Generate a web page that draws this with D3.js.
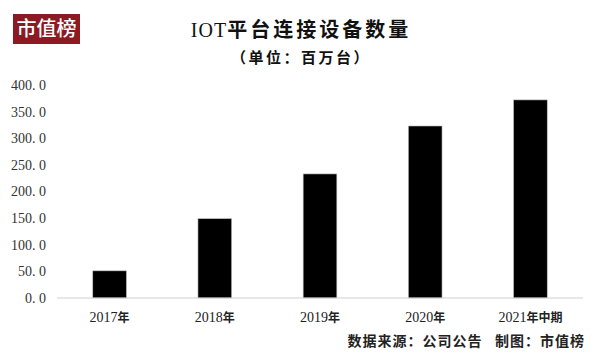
<!DOCTYPE html>
<html>
<head>
<meta charset="utf-8">
<script src="https://cdn.jsdelivr.net/npm/d3@7"></script>
<style>
  body { margin: 0; background: #fff; }
  svg { display: block; }
</style>
</head>
<body>
<div id="chart"></div>
<script>
// data
const categories = ['2017年', '2018年', '2019年', '2020年', '2021年中期'];
const devices    = [51, 149, 233, 323, 372];
const yTicks     = [0, 50, 100, 150, 200, 250, 300, 350, 400];

const canvas_w = 600;
const canvas_h = 364;
const margin   = { top: 85, right: 17, bottom: 66, left: 57 };

const serif = '"Liberation Serif", "Noto Sans CJK SC", serif';
const cjk   = '"Noto Sans CJK SC", sans-serif';

let svg = d3.select('#chart')
            .append('svg')
            .attr('width', canvas_w)
            .attr('height', canvas_h);

svg.append('rect')
   .attr('width', canvas_w)
   .attr('height', canvas_h)
   .attr('fill', '#fff');

let x = d3.scaleBand()
          .domain(categories)
          .range([margin.left, canvas_w - margin.right])
          .paddingInner(0.68)
          .paddingOuter(0.34);

let y = d3.scaleLinear()
          .domain([0, 400])
          .range([canvas_h - margin.bottom, margin.top]);

// logo
svg.append('rect')
   .attr('x', 13).attr('y', 14)
   .attr('width', 67).attr('height', 30)
   .attr('fill', '#8b1a22');
svg.append('text')
   .attr('x', 46.5).attr('y', 36)
   .attr('text-anchor', 'middle')
   .attr('fill', '#fff')
   .style('font-family', cjk)
   .style('font-size', '20px')
   .style('font-weight', 500)
   .text('市值榜');

// titles
svg.append('text')
   .attr('x', 301).attr('y', 37)
   .attr('text-anchor', 'middle')
   .attr('fill', '#111')
   .style('font-size', '20px')
   .html('<tspan style="font-family:\'Liberation Serif\',serif;letter-spacing:1px">IOT</tspan><tspan style="font-family:\'Noto Sans CJK SC\',sans-serif;font-weight:700;letter-spacing:3px">平台连接设备数量</tspan>');

svg.append('text')
   .attr('x', 301).attr('y', 63)
   .attr('text-anchor', 'middle')
   .attr('fill', '#111')
   .style('font-family', cjk)
   .style('font-size', '15px')
   .style('font-weight', 700)
   .style('letter-spacing', '2.5px')
   .text('（单位：百万台）');

// y axis labels
svg.append('g')
   .selectAll('text')
   .data(yTicks)
   .enter()
   .append('text')
   .attr('x', 46)
   .attr('y', d => y(d))
   .attr('dy', '0.35em')
   .attr('text-anchor', 'end')
   .attr('fill', '#333')
   .style('font-family', serif)
   .style('font-size', '14px')
   .text(d => d.toFixed(1).replace('.', '. '));

// bars
svg.append('g')
   .selectAll('rect')
   .data(devices)
   .enter()
   .append('rect')
   .attr('x', (d, i) => x(categories[i]))
   .attr('y', d => y(d))
   .attr('width', x.bandwidth())
   .attr('height', d => y(0) - y(d))
   .attr('fill', '#000')
   .attr('stroke', '#bbb')
   .attr('stroke-width', 0.6);

// baseline
svg.append('line')
   .attr('x1', margin.left).attr('x2', canvas_w - margin.right)
   .attr('y1', y(0)).attr('y2', y(0))
   .attr('stroke', '#d0d0d0')
   .attr('stroke-width', 1.2);

// x labels
svg.append('g')
   .selectAll('text')
   .data(categories)
   .enter()
   .append('text')
   .attr('x', d => x(d) + x.bandwidth() / 2)
   .attr('y', y(0) + 24)
   .attr('text-anchor', 'middle')
   .attr('fill', '#222')
   .style('font-size', '14px')
   .html(d => {
     let m = d.match(/^(\d+)(.*)$/);
     return '<tspan style="font-family:\'Liberation Serif\',serif">' + m[1] +
            '</tspan><tspan style="font-family:\'Noto Sans CJK SC\',sans-serif;font-weight:700;font-size:12px">' + m[2] + '</tspan>';
   });

// source
svg.append('text')
   .attr('x', 585).attr('y', 346)
   .attr('text-anchor', 'end')
   .attr('fill', '#222')
   .style('font-family', cjk)
   .style('font-size', '14px')
   .style('font-weight', 700)
   .style('letter-spacing', '1px')
   .style('white-space', 'pre')
   .text('数据来源：公司公告   制图：市值榜');
</script>
</body>
</html>
